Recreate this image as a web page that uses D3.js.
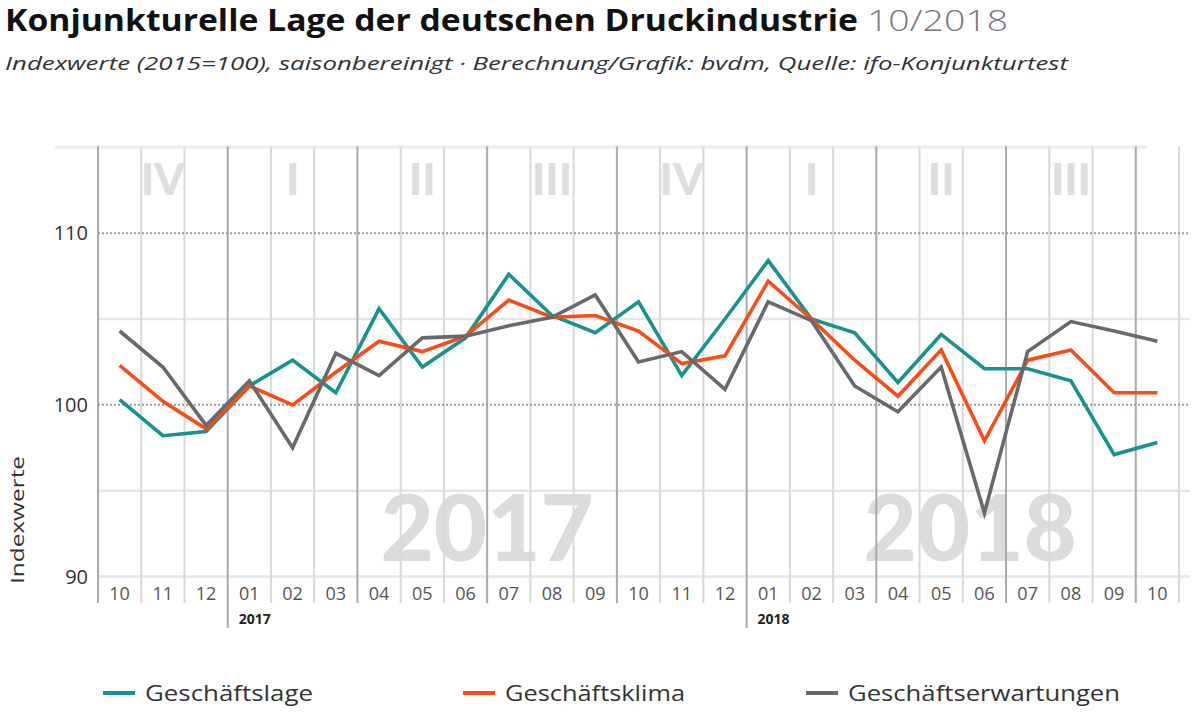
<!DOCTYPE html>
<html>
<head>
<meta charset="utf-8">
<script src="https://cdn.jsdelivr.net/npm/d3@7"></script>
<style>
  body { margin: 0; background: #fff; }
  text { font-family: "Open Sans", Lato, sans-serif; }
  .big { font-family: Lato, "Open Sans", sans-serif; }
</style>
</head>
<body>
<script>
var width = 1200;
var height = 712;

// Monate 10/2016 bis 10/2018
var months = ["10","11","12","01","02","03","04","05","06","07","08","09","10","11","12","01","02","03","04","05","06","07","08","09","10"];
var years = ["2017", "2018"];
var yearStart = [3, 15];
var quarters = ["IV","I","II","III","IV","I","II","III"];
var yTicks = [90, 100, 110];

var lage = [100.3, 98.2, 98.45, 101.1, 102.6, 100.7, 105.6, 102.2, 103.9, 107.6, 105.2, 104.2, 106.0, 101.7, 105.0, 108.4, 105.0, 104.2, 101.3, 104.1, 102.1, 102.1, 101.4, 97.1, 97.8];
var klima = [102.3, 100.2, 98.6, 101.1, 100.0, 101.9, 103.7, 103.1, 104.0, 106.1, 105.1, 105.2, 104.3, 102.4, 102.85, 107.2, 105.0, 102.6, 100.5, 103.2, 97.9, 102.6, 103.2, 100.7, 100.7];
var erwartungen = [104.3, 102.2, 98.8, 101.4, 97.5, 103.0, 101.7, 103.9, 104.0, 104.6, 105.1, 106.4, 102.5, 103.1, 100.9, 106.0, 104.9, 101.1, 99.6, 102.2, 93.7, 103.1, 104.85, 104.3, 103.7];

var seriesNames = ["Geschäftslage", "Geschäftsklima", "Geschäftserwartungen"];
var seriesColors = ["#17928f", "#fb4b17", "#666a6c"];
var seriesData = [lage, klima, erwartungen];

var svg = d3.select("body").append("svg")
  .attr("width", width)
  .attr("height", height);

var x = d3.scaleLinear().domain([0, months.length]).range([98, 1179]);
var y = d3.scaleLinear().domain([90, 115]).range([576.5, 147.3]);

// Titel
svg.append("text").attr("x", 5).attr("y", 31)
  .style("font-size", "30px").style("font-weight", "bold").attr("fill", "#111")
  .attr("textLength", 853).attr("lengthAdjust", "spacingAndGlyphs")
  .text("Konjunkturelle Lage der deutschen Druckindustrie");
svg.append("text").attr("x", 867).attr("y", 31)
  .style("font-size", "30px").style("font-weight", 300).attr("fill", "#777")
  .attr("textLength", 141).attr("lengthAdjust", "spacingAndGlyphs")
  .text("10/2018");

svg.append("text").attr("x", 5).attr("y", 70)
  .style("font-size", "19px").style("font-style", "italic").attr("fill", "#333")
  .attr("textLength", 1063).attr("lengthAdjust", "spacingAndGlyphs")
  .text("Indexwerte (2015=100), saisonbereinigt  ·  Berechnung/Grafik: bvdm, Quelle: ifo-Konjunkturtest");

// Jahreszahlen im Hintergrund
svg.append("text").attr("class", "big").attr("x", x(9)).attr("y", 561)
  .attr("text-anchor", "middle").style("font-size", "92px").style("font-weight", 900)
  .attr("fill", "#dcdcdc").text(years[0]);
svg.append("text").attr("class", "big").attr("x", x(20.17)).attr("y", 561)
  .attr("text-anchor", "middle").style("font-size", "92px").style("font-weight", 900)
  .attr("fill", "#dcdcdc").text(years[1]);

// Quartale
svg.selectAll(".quarter")
  .data(quarters)
  .enter()
  .append("text")
  .attr("class", "quarter big")
  .attr("x", function(d, i){ return x(i * 3 + 1.5); })
  .attr("y", 195)
  .attr("text-anchor", "middle")
  .style("font-size", "44px").style("font-weight", 900)
  .attr("fill", "#dedede")
  .text(function(d){ return d; });

// horizontale Linien
svg.append("line").attr("x1", 55).attr("x2", 1147).attr("y1", y(115)).attr("y2", y(115))
  .attr("stroke", "#ececec").attr("stroke-width", 3);
[95, 105, 90].forEach(function(v){
  svg.append("line").attr("x1", 98).attr("x2", 1190).attr("y1", y(v)).attr("y2", y(v))
    .attr("stroke", "#e6e6e6").attr("stroke-width", 2.5);
});

// vertikale Linien
svg.selectAll(".vline")
  .data(d3.range(months.length + 1))
  .enter()
  .append("line")
  .attr("class", "vline")
  .attr("x1", function(d){ return x(d); })
  .attr("x2", function(d){ return x(d); })
  .attr("y1", y(115) - 1)
  .attr("y2", function(d){ return yearStart.indexOf(d) >= 0 ? 628 : 603; })
  .attr("stroke", function(d){ return d % 3 == 0 && d < months.length ? "#aaaaaa" : "#d9d9d9"; })
  .attr("stroke-width", 2);

[100, 110].forEach(function(v){
  svg.append("line").attr("x1", 98).attr("x2", 1190).attr("y1", y(v)).attr("y2", y(v))
    .attr("stroke", "#9a9a9a").attr("stroke-width", 2).attr("stroke-dasharray", "2,2");
});

// y-Achse
svg.selectAll(".ytick")
  .data(yTicks)
  .enter()
  .append("text")
  .attr("class", "ytick")
  .attr("x", 88)
  .attr("y", function(d){ return y(d) + 7; })
  .attr("text-anchor", "end")
  .style("font-size", "20px").attr("fill", "#333")
  .text(function(d){ return d; });

svg.append("text")
  .attr("transform", "translate(24,520) rotate(-90)")
  .attr("text-anchor", "middle")
  .style("font-size", "19px").attr("fill", "#333")
  .attr("textLength", 128).attr("lengthAdjust", "spacingAndGlyphs")
  .text("Indexwerte");

// x-Achse
svg.selectAll(".month")
  .data(months)
  .enter()
  .append("text")
  .attr("class", "month")
  .attr("x", function(d, i){ return x(i + 0.5); })
  .attr("y", 600)
  .attr("text-anchor", "middle")
  .style("font-size", "18px").attr("fill", "#555")
  .text(function(d){ return d; });

svg.selectAll(".year")
  .data(years)
  .enter()
  .append("text")
  .attr("class", "year")
  .attr("x", function(d, i){ return x(yearStart[i]) + 11; })
  .attr("y", 624)
  .style("font-size", "14px").style("font-weight", "bold").attr("fill", "#222")
  .text(function(d){ return d; });

// Linien
var line = d3.line()
  .x(function(d, i){ return x(i + 0.5); })
  .y(function(d){ return y(d); });

svg.selectAll(".series")
  .data(seriesData)
  .enter()
  .append("path")
  .attr("class", "series")
  .attr("d", line)
  .attr("fill", "none")
  .attr("stroke", function(d, i){ return seriesColors[i]; })
  .attr("stroke-width", 3.6)
  .attr("stroke-linejoin", "miter");

// Legende
var legendX = [103, 463, 806];
var legendW = [168, 180, 272];
var legend = svg.selectAll(".legend")
  .data(seriesNames)
  .enter()
  .append("g")
  .attr("class", "legend")
  .attr("transform", function(d, i){ return "translate(" + legendX[i] + ",693)"; });
legend.append("line")
  .attr("x1", 0).attr("x2", 32)
  .attr("stroke", function(d, i){ return seriesColors[i]; })
  .attr("stroke-width", 4);
legend.append("text")
  .attr("x", 42).attr("y", 7.5)
  .style("font-size", "21px").attr("fill", "#333")
  .attr("textLength", function(d, i){ return legendW[i]; })
  .attr("lengthAdjust", "spacingAndGlyphs")
  .text(function(d){ return d; });
</script>
</body>
</html>
